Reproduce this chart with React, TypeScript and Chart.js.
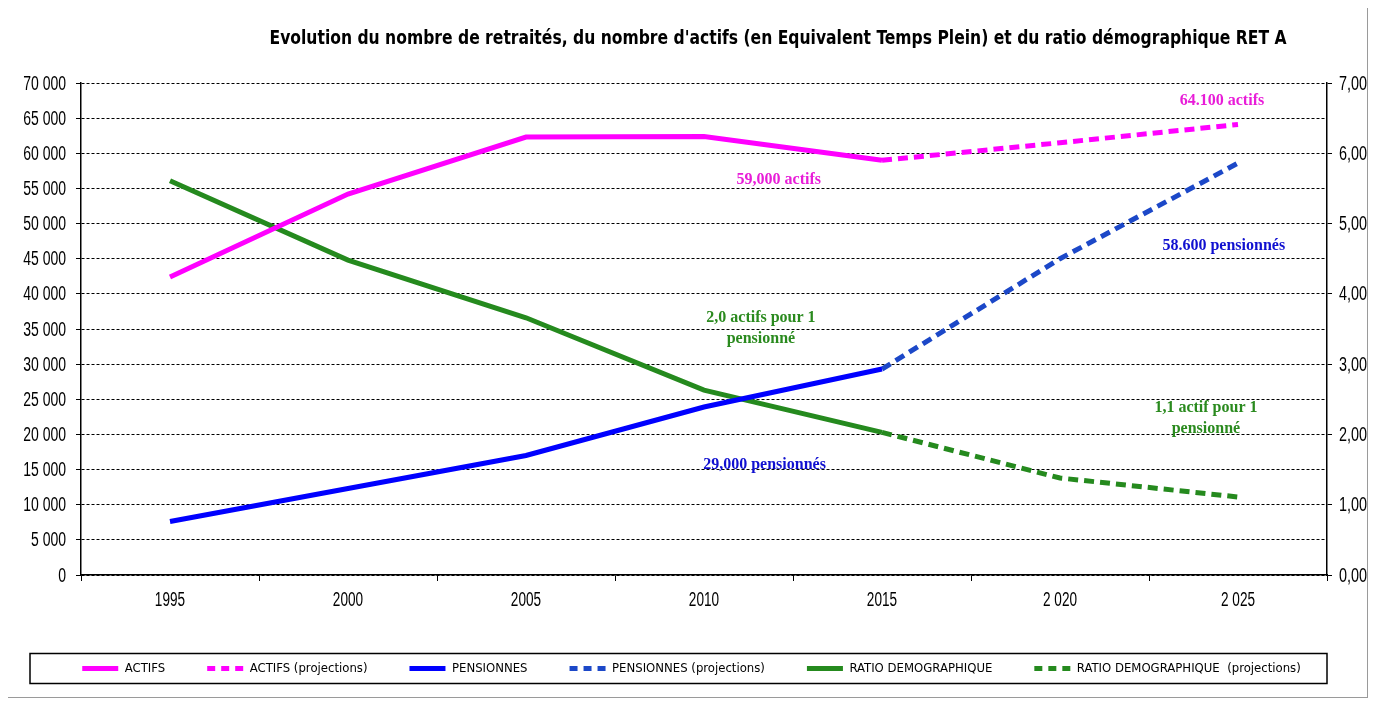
import React, { useEffect, useRef } from 'react';
import { Chart, registerables } from 'chart.js';

Chart.register(...registerables);

const TITLE = "Evolution du nombre de retraités, du nombre d'actifs (en Equivalent Temps Plein) et du ratio démographique RET A";

const categories = ['1995', '2000', '2005', '2010', '2015', '2 020', '2 025'];

const actifs = [42400, 54200, 62300, 62400, 59000, null, null];
const actifsProj = [null, null, null, null, 59000, 61500, 64100];
const pensionnes = [7600, 12300, 17000, 23900, 29300, null, null];
const pensionnesProj = [null, null, null, null, 29300, 45000, 58600];
const ratio = [5.61, 4.48, 3.66, 2.63, 2.03, null, null];
const ratioProj = [null, null, null, null, 2.03, 1.38, 1.11];

const seriesLabels = [
  'ACTIFS',
  'ACTIFS (projections)',
  'PENSIONNES',
  'PENSIONNES (projections)',
  'RATIO DEMOGRAPHIQUE',
  'RATIO DEMOGRAPHIQUE  (projections)',
];

const MAGENTA = '#FF00FF';
const BLUE = '#0000FF';
const BLUE_PROJ = '#1C48C8';
const GREEN = '#258A1E';

const annotationTexts = [
  ['64.100 actifs'],
  ['59,000 actifs'],
  ['58.600 pensionnés'],
  ['2,0 actifs pour 1', 'pensionné'],
  ['1,1 actif pour 1', 'pensionné'],
  ['29,000 pensionnés'],
];
const annotationX = [5.91, 3.42, 5.92, 3.32, 5.82, 3.34];
const annotationY = [67400, 56200, 46800, 35100, 22300, 15700];
const annotationColors = ['#E81CD8', '#E81CD8', '#1010D0', '#2A8A1E', '#2A8A1E', '#1010D0'];

const NARROW = "'DejaVu Sans Condensed', 'Liberation Sans Narrow', 'Arial Narrow', 'Liberation Sans', Arial, sans-serif";
const TICKFONT = "'Liberation Sans', Arial, sans-serif";
const SERIF = "'Liberation Serif', 'Times New Roman', serif";

const fmtThousands = (v: number) => {
  const s = Math.round(v).toString();
  return s.replace(/\B(?=(\d{3})+(?!\d))/g, ' ');
};
const fmtRatio = (v: number) => Number(v).toFixed(2).replace('.', ',');

const drawNarrow = (ctx: any, text: string, x: number, y: number, align: string, sx: number) => {
  ctx.save();
  ctx.translate(x, y);
  ctx.scale(sx, 1);
  ctx.textAlign = align;
  ctx.textBaseline = 'middle';
  ctx.fillText(text, 0, 0);
  ctx.restore();
};

const extrasPlugin = {
  id: 'extras',
  afterDraw(chart: any) {
    const { ctx, chartArea, scales } = chart;
    ctx.save();
    // title, compressed horizontally to the reference's narrow face
    ctx.fillStyle = '#000';
    ctx.font = `bold 20px ${NARROW}`;
    const tw = ctx.measureText(TITLE).width;
    const sxT = Math.min(1, 1017 / tw);
    drawNarrow(ctx, TITLE, (chartArea.left + chartArea.right) / 2 + 74, 31, 'center', sxT);

    // tick labels (narrow face), positioned by the library's scales
    ctx.fillStyle = '#000';
    ctx.font = `20px ${TICKFONT}`;
    scales.y.ticks.forEach((t: any) => {
      drawNarrow(ctx, fmtThousands(t.value), chartArea.left - 15, scales.y.getPixelForValue(t.value) + 1, 'right', 0.7);
    });
    scales.y1.ticks.forEach((t: any) => {
      drawNarrow(ctx, fmtRatio(t.value), chartArea.right + 12, scales.y1.getPixelForValue(t.value) + 1, 'left', 0.72);
    });
    scales.x.ticks.forEach((t: any) => {
      drawNarrow(ctx, categories[t.value], scales.x.getPixelForValue(t.value), chartArea.bottom + 25, 'center', 0.68);
    });

    // annotations
    ctx.font = `bold 16px ${SERIF}`;
    ctx.textAlign = 'center';
    ctx.textBaseline = 'middle';
    annotationTexts.forEach((lines, i) => {
      const x = scales.x.getPixelForValue(annotationX[i]);
      const y = scales.y.getPixelForValue(annotationY[i]);
      ctx.fillStyle = annotationColors[i];
      const lh = 21;
      const y0 = y - ((lines.length - 1) * lh) / 2;
      lines.forEach((t, j) => ctx.fillText(t, x, y0 + j * lh));
    });

    // legend frame
    const lg = chart.legend;
    if (lg && lg.legendHitBoxes && lg.legendHitBoxes.length) {
      const hb = lg.legendHitBoxes[0];
      const cy = hb.top + hb.height / 2;
      ctx.strokeStyle = '#000';
      ctx.lineWidth = 1.5;
      ctx.strokeRect(chartArea.left - 51, cy - 15, chartArea.right - chartArea.left + 51, 30);
    }
    ctx.restore();
  },
};

export default function App() {
  const canvasRef = useRef<HTMLCanvasElement | null>(null);

  useEffect(() => {
    if (!canvasRef.current) return;
    const lineDs = (label: string, data: any[], color: string, axis: string, dashed: boolean) => ({
      label,
      data,
      borderColor: color,
      backgroundColor: color,
      borderWidth: 5,
      borderDash: dashed ? [10, 6] : [],
      pointRadius: 0,
      pointHoverRadius: 0,
      pointStyle: 'line',
      fill: false,
      tension: 0,
      spanGaps: false,
      yAxisID: axis,
    });

    const chart = new Chart(canvasRef.current, {
      type: 'line',
      data: {
        labels: categories,
        datasets: [
          lineDs(seriesLabels[0], actifs, MAGENTA, 'y', false),
          lineDs(seriesLabels[1], actifsProj, MAGENTA, 'y', true),
          lineDs(seriesLabels[2], pensionnes, BLUE, 'y', false),
          lineDs(seriesLabels[3], pensionnesProj, BLUE_PROJ, 'y', true),
          lineDs(seriesLabels[4], ratio, GREEN, 'y1', false),
          lineDs(seriesLabels[5], ratioProj, GREEN, 'y1', true),
        ],
      },
      options: {
        animation: false,
        responsive: true,
        maintainAspectRatio: false,
        layout: { padding: { top: 75, left: 8, right: 0, bottom: 12 } },
        plugins: {
          title: { display: false },
          tooltip: { enabled: false },
          legend: {
            display: true,
            position: 'bottom',
            labels: {
              usePointStyle: true,
              pointStyle: 'line',
              pointStyleWidth: 36,
              boxHeight: 13,
              padding: 42,
              color: '#000',
              font: { family: NARROW, size: 13 },
              generateLabels: (ch: any) => {
                const items = Chart.defaults.plugins.legend.labels.generateLabels(ch);
                items.forEach((it: any) => {
                  const ds: any = ch.data.datasets[it.datasetIndex];
                  it.lineDash = ds.borderDash && ds.borderDash.length ? [8, 6] : [];
                  it.lineWidth = 5;
                  it.strokeStyle = ds.borderColor;
                  it.fillStyle = ds.borderColor;
                  it.pointStyle = 'line';
                  it.lineCap = 'butt';
                });
                return items;
              },
            },
          },
        },
        scales: {
          x: {
            type: 'category',
            offset: true,
            grid: {
              display: true,
              offset: true,
              drawOnChartArea: false,
              drawTicks: true,
              tickLength: 6,
              color: '#000',
              lineWidth: 1,
            },
            border: { display: true, color: '#000', width: 1.5 },
            ticks: { display: false, autoSkip: false, maxRotation: 0 },
            afterFit: (scale: any) => {
              scale.height = 45;
            },
          },
          y: {
            position: 'left',
            min: 0,
            max: 70000,
            grid: {
              display: true,
              drawOnChartArea: true,
              drawTicks: true,
              tickLength: 5,
              color: '#000',
              lineWidth: 1,
              tickColor: '#000',
            },
            border: { display: true, color: '#000', width: 1.5, dash: [3, 2] },
            ticks: { display: false, stepSize: 5000 },
            afterFit: (scale: any) => {
              scale.width = 65;
            },
          },
          y1: {
            position: 'right',
            min: 0,
            max: 7,
            grid: {
              display: true,
              drawOnChartArea: false,
              drawTicks: true,
              tickLength: 5,
              color: '#000',
            },
            border: { display: true, color: '#000', width: 1.5 },
            ticks: { display: false, stepSize: 1 },
            afterFit: (scale: any) => {
              scale.width = 40;
            },
          },
        },
      },
      plugins: [extrasPlugin],
    } as any);
    return () => chart.destroy();
  }, []);

  return (
    <div
      style={{
        position: 'relative',
        width: '100%',
        height: 690,
        background: '#fff',
        borderRight: '1px solid #9a9a9a',
        borderBottom: '1px solid #9a9a9a',
        boxSizing: 'border-box',
      }}
    >
      <canvas ref={canvasRef} />
    </div>
  );
}
